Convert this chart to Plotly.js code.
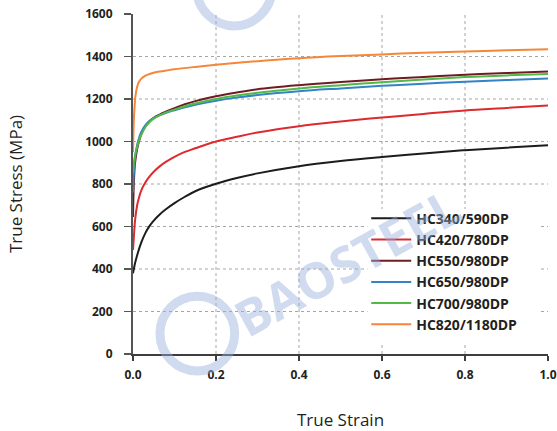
<!DOCTYPE html>
<html>
<head>
<meta charset="utf-8">
<script src="https://cdn.plot.ly/plotly-3.0.1.min.js"></script>
<style>
  html, body { margin: 0; padding: 0; background: #fff; }
  #chart { width: 557px; height: 431px; }
</style>
</head>
<body>
<div id="chart"></div>
<script>
// True stress vs. true strain for Baosteel dual-phase grades
const gradeNames = ["HC340/590DP", "HC420/780DP", "HC550/980DP", "HC650/980DP", "HC700/980DP", "HC820/1180DP"];
const gradeColors = ["#1c1c1c", "#dc2a2f", "#6e1c22", "#3383c6", "#52b848", "#f5873a"];

const strainHC340 = [0, 0.002, 0.005, 0.01, 0.02, 0.03, 0.04, 0.05, 0.065, 0.08, 0.1, 0.125, 0.15, 0.2, 0.25, 0.3, 0.4, 0.5, 0.6, 0.7, 0.8, 0.9, 1.0];
const stressHC340 = [380, 400, 428, 465, 525, 570, 603, 628, 658, 682, 710, 740, 766, 801, 828, 850, 884, 908, 927, 944, 959, 971, 982];

const strainHC420 = [0, 0.001, 0.002, 0.005, 0.01, 0.015, 0.02, 0.03, 0.04, 0.05, 0.065, 0.08, 0.1, 0.125, 0.15, 0.2, 0.25, 0.3, 0.4, 0.5, 0.6, 0.7, 0.8, 0.9, 1.0];
const stressHC420 = [490, 520, 548, 630, 700, 740, 770, 808, 836, 858, 884, 905, 928, 951, 968, 1000, 1022, 1042, 1072, 1094, 1113, 1130, 1146, 1158, 1170];

const strainHC550 = [0, 0.001, 0.002, 0.005, 0.01, 0.015, 0.02, 0.03, 0.04, 0.05, 0.065, 0.08, 0.1, 0.125, 0.15, 0.2, 0.25, 0.3, 0.4, 0.5, 0.6, 0.7, 0.8, 0.9, 1.0];
const stressHC550 = [645, 740, 800, 900, 965, 1005, 1035, 1072, 1095, 1112, 1128, 1141, 1157, 1175, 1190, 1213, 1231, 1246, 1265, 1280, 1293, 1304, 1314, 1322, 1330];

const strainHC650 = [0, 0.001, 0.002, 0.005, 0.01, 0.015, 0.02, 0.03, 0.04, 0.05, 0.065, 0.08, 0.1, 0.125, 0.15, 0.2, 0.25, 0.3, 0.4, 0.5, 0.6, 0.7, 0.8, 0.9, 1.0];
const stressHC650 = [760, 810, 850, 925, 985, 1020, 1045, 1077, 1097, 1110, 1124, 1135, 1147, 1161, 1173, 1192, 1207, 1219, 1237, 1250, 1262, 1272, 1281, 1289, 1296];

const strainHC700 = [0, 0.002, 0.005, 0.01, 0.015, 0.02, 0.03, 0.04, 0.05, 0.065, 0.08, 0.1, 0.125, 0.15, 0.2, 0.25, 0.3, 0.4, 0.5, 0.6, 0.7, 0.8, 0.9, 1.0];
const stressHC700 = [850, 895, 935, 975, 1008, 1032, 1068, 1092, 1108, 1124, 1137, 1150, 1166, 1179, 1200, 1216, 1229, 1250, 1265, 1279, 1292, 1303, 1311, 1318];

const strainHC820 = [0, 0.001, 0.002, 0.004, 0.006, 0.01, 0.015, 0.02, 0.03, 0.04, 0.06, 0.08, 0.1, 0.15, 0.2, 0.3, 0.4, 0.5, 0.6, 0.7, 0.8, 0.9, 1.0];
const stressHC820 = [950, 1040, 1100, 1170, 1215, 1258, 1283, 1296, 1310, 1318, 1328, 1334, 1340, 1351, 1361, 1378, 1392, 1402, 1410, 1418, 1424, 1429, 1434];

const strainSeries = [strainHC340, strainHC420, strainHC550, strainHC650, strainHC700, strainHC820];
const stressSeries = [stressHC340, stressHC420, stressHC550, stressHC650, stressHC700, stressHC820];

const xTicks = [0, 0.2, 0.4, 0.6, 0.8, 1.0];
const xTickText = ["0.0", "0.2", "0.4", "0.6", "0.8", "1.0"];
const yTicks = [0, 200, 400, 600, 800, 1000, 1200, 1400, 1600];

const fontFamily = "'Open Sans', 'Noto Sans', sans-serif";
const textColor = "#231f20";

const traces = gradeNames.map((name, i) => ({
  type: "scatter",
  mode: "lines",
  name: name,
  legendgroup: name,
  x: strainSeries[i],
  y: stressSeries[i],
  line: { color: gradeColors[i], width: 2, shape: "spline", smoothing: 1 },
  cliponaxis: false,
  hoverinfo: "x+y+name"
}));

// dashed grid drawn as shapes so the top edge stays clean
const gridStyle = { color: "#a6a6a6", width: 1, dash: "3px,3px" };
const shapes = [];
yTicks.slice(1, -1).forEach(v => shapes.push({
  type: "line", xref: "x", yref: "y", x0: 0, x1: 1, y0: v, y1: v, line: gridStyle, layer: "below"
}));
xTicks.slice(1, -1).forEach(v => shapes.push({
  type: "line", xref: "x", yref: "y", x0: v, x1: v, y0: 0, y1: 1600, line: gridStyle, layer: "below"
}));
// blank panel behind the legend that hides the grid there
shapes.push({
  type: "rect", xref: "x", yref: "y", x0: 0.565, x1: 0.98, y0: 52, y1: 682,
  fillcolor: "#ffffff", line: { width: 0 }, layer: "below"
});

// faint company watermark
const markColor = "rgba(150,176,220,0.45)";
shapes.push({ type: "circle", xref: "paper", yref: "paper", x0: 0.065, x1: 0.245, y0: -0.05, y1: 0.17, line: { color: markColor, width: 9 }, layer: "above" });
shapes.push({ type: "circle", xref: "paper", yref: "paper", x0: 0.153, x1: 0.335, y0: 0.965, y1: 1.19, line: { color: markColor, width: 9 }, layer: "above" });

const layout = {
  width: 557,
  height: 431,
  margin: { l: 133, r: 9, t: 14, b: 77 },
  paper_bgcolor: "#ffffff",
  plot_bgcolor: "#ffffff",
  font: { family: fontFamily, color: textColor },
  showlegend: true,
  legend: {
    x: 0.562, y: 0.445, xanchor: "left", yanchor: "top",
    bgcolor: "rgba(255,255,255,0)",
    borderwidth: 0,
    font: { family: fontFamily, size: 14, color: textColor, weight: "bold" },
    tracegroupgap: 5,
    itemwidth: 40,
    traceorder: "normal"
  },
  xaxis: {
    range: [0, 1],
    tickvals: xTicks,
    ticktext: xTickText,
    showgrid: false,
    zeroline: false,
    showline: true,
    linecolor: "#3d3d3d",
    linewidth: 2,
    ticks: "outside",
    ticklen: 5,
    tickwidth: 1.5,
    tickcolor: "#3d3d3d",
    ticklabelstandoff: 4,
    tickfont: { family: fontFamily, size: 12, color: textColor, weight: "bold" },
    layer: "below traces",
    title: { text: "True Strain", font: { family: fontFamily, size: 17, color: textColor }, standoff: 36 }
  },
  yaxis: {
    range: [0, 1600],
    tickvals: yTicks,
    showgrid: false,
    zeroline: false,
    showline: true,
    linecolor: "#555555",
    linewidth: 2,
    ticks: "outside",
    ticklen: 7,
    tickwidth: 1.5,
    tickcolor: "#555555",
    ticklabelstandoff: 9,
    tickfont: { family: fontFamily, size: 12, color: textColor, weight: "bold" },
    layer: "below traces",
    title: { text: "True Stress (MPa)", font: { family: fontFamily, size: 17, color: textColor }, standoff: 58 }
  },
  shapes: shapes,
  annotations: [{
    text: "BAOSTEEL",
    xref: "paper", yref: "paper",
    x: 0.516, y: 0.27,
    xanchor: "center", yanchor: "middle",
    showarrow: false,
    textangle: -29,
    font: { family: fontFamily, size: 50, color: markColor, weight: "bold" }
  }]
};

Plotly.newPlot("chart", traces, layout, { displayModeBar: false, staticPlot: true });
</script>
</body>
</html>
